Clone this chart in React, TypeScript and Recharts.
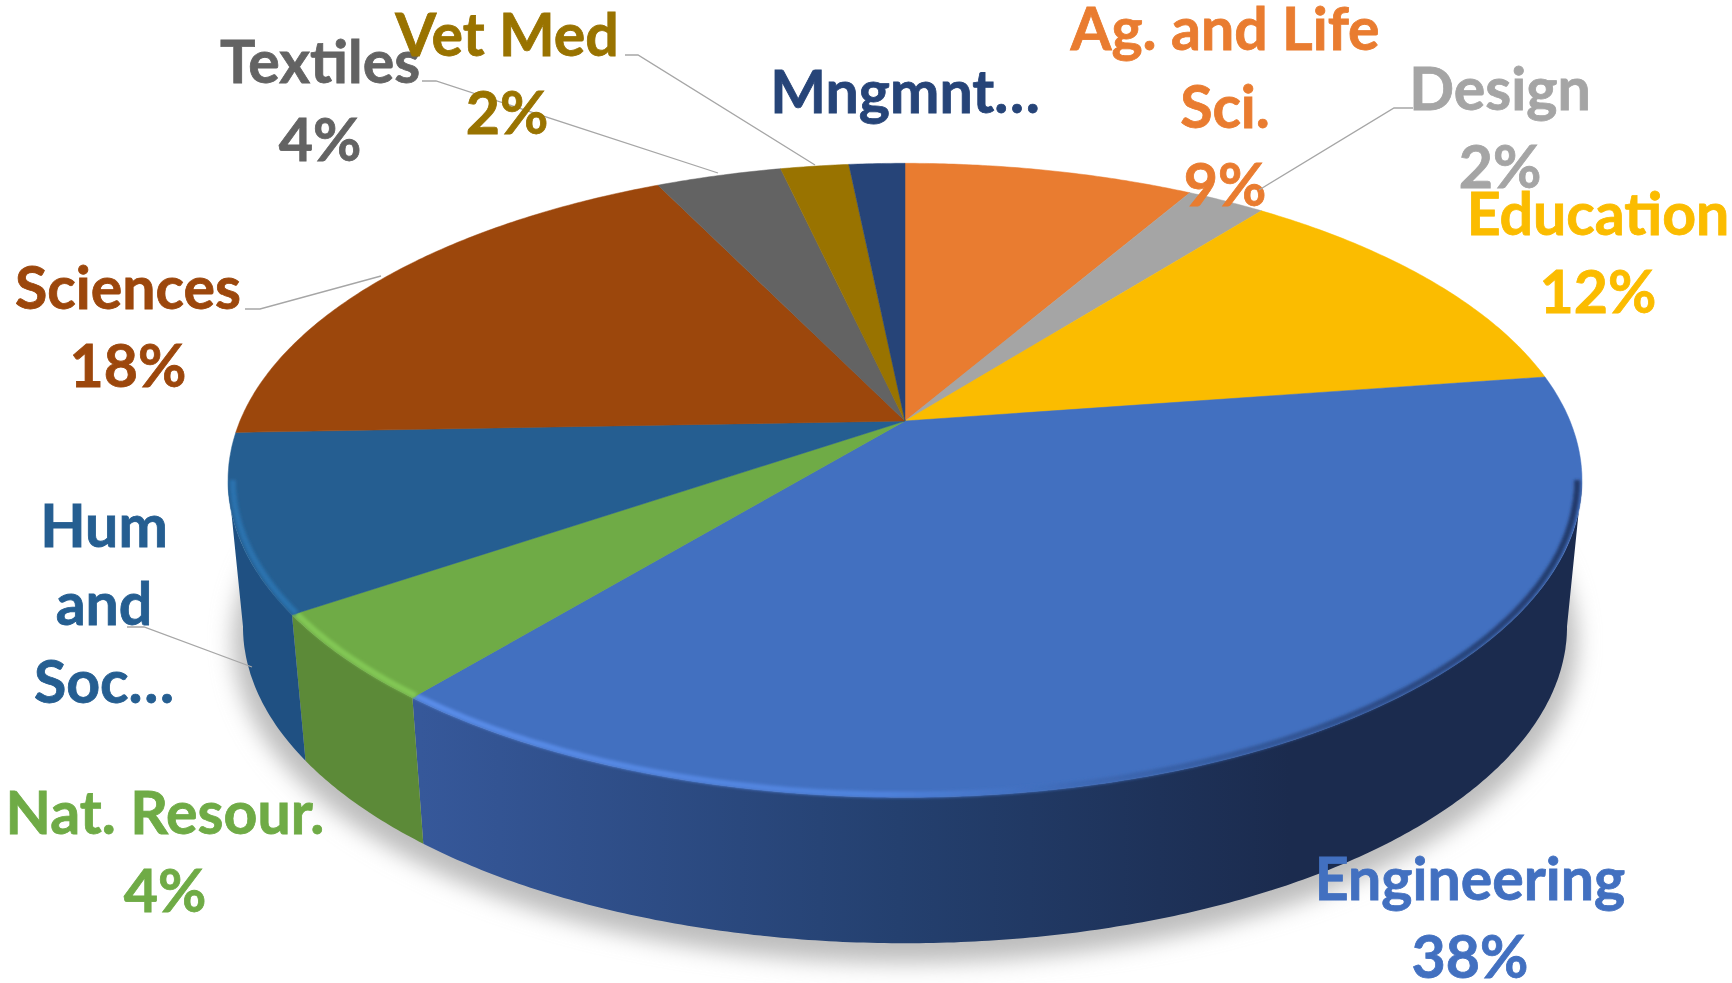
import { Pie, PieChart } from "recharts";

const categories = [
  "Ag. and Life Sci.",
  "Design",
  "Education",
  "Engineering",
  "Nat. Resour.",
  "Hum and Soc",
  "Sciences",
  "Textiles",
  "Vet Med",
  "Mngmnt",
];
const shares = [8.3, 2.25, 12.1, 38.3, 4.5, 9.0, 18.45, 3.6, 1.95, 1.6];
const labelLines = [
  ["Ag. and Life", "Sci.", "9%"],
  ["Design", "2%"],
  ["Education", "12%"],
  ["Engineering", "38%"],
  ["Nat. Resour.", "4%"],
  ["Hum", "and", "Soc…"],
  ["Sciences", "18%"],
  ["Textiles", "4%"],
  ["Vet Med", "2%"],
  ["Mngmnt…"],
];

const topColors = ["#E97C30", "#A5A5A5", "#FBBC00", "#4270C0", "#6FAB46", "#255E91", "#9C470C", "#636363", "#997300", "#264478"];
const wallColors = ["#AE5A22", "#7A7A7A", "#BD8E00", "url(#engWall)", "#5C8A38", "#1F5082", "#7A380A", "#4A4A4A", "#725500", "#1C3358"];
const rimColors = ["#F08C45", "#B5B5B5", "#FFCB30", "url(#engRim)", "#82C755", "#2A72AE", "#B5530F", "#777777", "#B08500", "#2E5590"];

// where each label block sits: centre x, first baseline, leader line
const labelSpots = [
  { x: 1225, y: 50, leader: "" },
  { x: 1500, y: 110, leader: "1413,108 1394,108 1259,190" },
  { x: 1598, y: 235, leader: "" },
  { x: 1470, y: 900, leader: "" },
  { x: 165, y: 834, leader: "" },
  { x: 104, y: 547, leader: "127,627 144,627 252,667" },
  { x: 128, y: 309, leader: "245,309 260,309 381,276" },
  { x: 320, y: 83, leader: "422,81 436,81 718,173" },
  { x: 507, y: 56, leader: "625,55 638,55 815,165" },
  { x: 905, y: 113, leader: "" },
];

const rows = categories.map((name, i) => ({ name, value: shares[i] }));
const shadowRow = [{ name: "shadow", value: 1 }];

const W = 1732;
const H = 983;
const CX = 905;
const CY = 421;
const RADIUS = 665;
const SQUASH = 0.46;
const PERSP = 0.187;
const BASE_INSET = 0.978;
const BASE_DROP = 146;
const FRONT_FROM = -10.8;
const FRONT_TO = -169.2;

// tilt a pie angle onto the top face of the disc
function rimPoint(cx: number, cy: number, r: number, deg: number) {
  const t = (deg * Math.PI) / 180;
  const s = -Math.sin(t);
  const d = 1 - PERSP * s;
  return [cx + (r * Math.cos(t)) / d, cy + (r * SQUASH * s) / d];
}

function basePoint(cx: number, cy: number, r: number, deg: number) {
  const [x, y] = rimPoint(cx, cy, r, deg);
  return [cx + (x - cx) * BASE_INSET, y + BASE_DROP];
}

function arc(fn: typeof rimPoint, cx: number, cy: number, r: number, from: number, to: number) {
  const steps = Math.max(2, Math.ceil(Math.abs(from - to) * 2));
  const pts: number[][] = [];
  for (let i = 0; i <= steps; i++) pts.push(fn(cx, cy, r, from + ((to - from) * i) / steps));
  return pts;
}

const toPath = (pts: number[][]) => "M" + pts.map((p) => `${p[0].toFixed(1)},${p[1].toFixed(1)}`).join("L");

function ShadowShape(props: any) {
  const { cx, cy, outerRadius } = props;
  const pts = arc(basePoint, cx, cy + 14, outerRadius * 1.015, 0, 360);
  return <path d={toPath(pts) + "Z"} fill="#bdbdbd" filter="url(#softShadow)" />;
}

function WallShape(props: any) {
  const { cx, cy, outerRadius, startAngle, endAngle, name } = props;
  const a0 = Math.min(startAngle, FRONT_FROM);
  const a1 = Math.max(endAngle, FRONT_TO);
  if (a0 <= a1) return null;
  const top = arc(rimPoint, cx, cy, outerRadius, a0, a1);
  const base = arc(basePoint, cx, cy, outerRadius, a1, a0);
  return <path d={toPath([...top, ...base]) + "Z"} fill={wallColors[categories.indexOf(name)]} />;
}

function TopShape(props: any) {
  const { cx, cy, outerRadius, startAngle, endAngle, name } = props;
  const i = categories.indexOf(name);
  const face = toPath([[cx, cy], ...arc(rimPoint, cx, cy, outerRadius, startAngle, endAngle)]) + "Z";
  const a0 = Math.min(startAngle, FRONT_FROM);
  const a1 = Math.max(endAngle, FRONT_TO);
  return (
    <g>
      <path d={face} fill={topColors[i]} stroke={topColors[i]} strokeWidth={0.5} />
      {a0 > a1 && (
        <path
          d={toPath(arc(rimPoint, cx, cy, outerRadius * 0.993, a0, a1))}
          fill="none"
          stroke={rimColors[i]}
          strokeWidth={6}
          filter="url(#rimBlur)"
        />
      )}
    </g>
  );
}

function SliceLabel(props: any) {
  const i = props.index;
  const spot = labelSpots[i];
  return (
    <g>
      {spot.leader && <polyline points={spot.leader} fill="none" stroke="#A6A6A6" strokeWidth={1.3} />}
      <text
        x={spot.x}
        textAnchor="middle"
        fill={topColors[i]}
        stroke={topColors[i]}
        strokeWidth={0.8}
        fontFamily="Lato"
        fontWeight={700}
        fontSize={59}
      >
        {labelLines[i].map((line, k) => (
          <tspan key={k} x={spot.x} y={spot.y + k * 78}>
            {line}
          </tspan>
        ))}
      </text>
    </g>
  );
}

export default function App() {
  return (
    <div style={{ position: "absolute", left: 0, top: 0, width: W, height: H }}>
      <PieChart width={W} height={H} margin={{ top: 0, right: 0, bottom: 0, left: 0 }}>
        <defs>
          <filter id="softShadow" filterUnits="userSpaceOnUse" x="0" y="0" width={W} height={H}>
            <feGaussianBlur stdDeviation="11" />
          </filter>
          <filter id="rimBlur" filterUnits="userSpaceOnUse" x="0" y="0" width={W} height={H}>
            <feGaussianBlur stdDeviation="1.8" />
          </filter>
          <linearGradient id="engWall" gradientUnits="userSpaceOnUse" x1="420" y1="0" x2="1290" y2="0">
            <stop offset="0" stopColor="#36589A" />
            <stop offset="0.55" stopColor="#24406F" />
            <stop offset="1" stopColor="#1B2B4E" />
          </linearGradient>
          <linearGradient id="engRim" gradientUnits="userSpaceOnUse" x1="420" y1="0" x2="1582" y2="0">
            <stop offset="0" stopColor="#5A8CE8" />
            <stop offset="0.4" stopColor="#4F82DC" />
            <stop offset="0.55" stopColor="#3F6CBA" />
            <stop offset="0.8" stopColor="#2E4F8C" />
            <stop offset="1" stopColor="#22396A" />
          </linearGradient>
        </defs>
        <Pie
          data={shadowRow}
          dataKey="value"
          nameKey="name"
          cx={CX}
          cy={CY}
          innerRadius={0}
          outerRadius={RADIUS}
          startAngle={90}
          endAngle={-270}
          stroke="none"
          shape={ShadowShape}
          activeShape={ShadowShape}
          inactiveShape={ShadowShape}
          isAnimationActive={false}
        />
        <Pie
          data={rows}
          dataKey="value"
          nameKey="name"
          cx={CX}
          cy={CY}
          innerRadius={0}
          outerRadius={RADIUS}
          startAngle={90}
          endAngle={-270}
          stroke="none"
          shape={WallShape}
          activeShape={WallShape}
          inactiveShape={WallShape}
          isAnimationActive={false}
        />
        <Pie
          data={rows}
          dataKey="value"
          nameKey="name"
          cx={CX}
          cy={CY}
          innerRadius={0}
          outerRadius={RADIUS}
          startAngle={90}
          endAngle={-270}
          stroke="none"
          shape={TopShape}
          activeShape={TopShape}
          inactiveShape={TopShape}
          label={SliceLabel}
          labelLine={false}
          isAnimationActive={false}
        />
      </PieChart>
    </div>
  );
}
